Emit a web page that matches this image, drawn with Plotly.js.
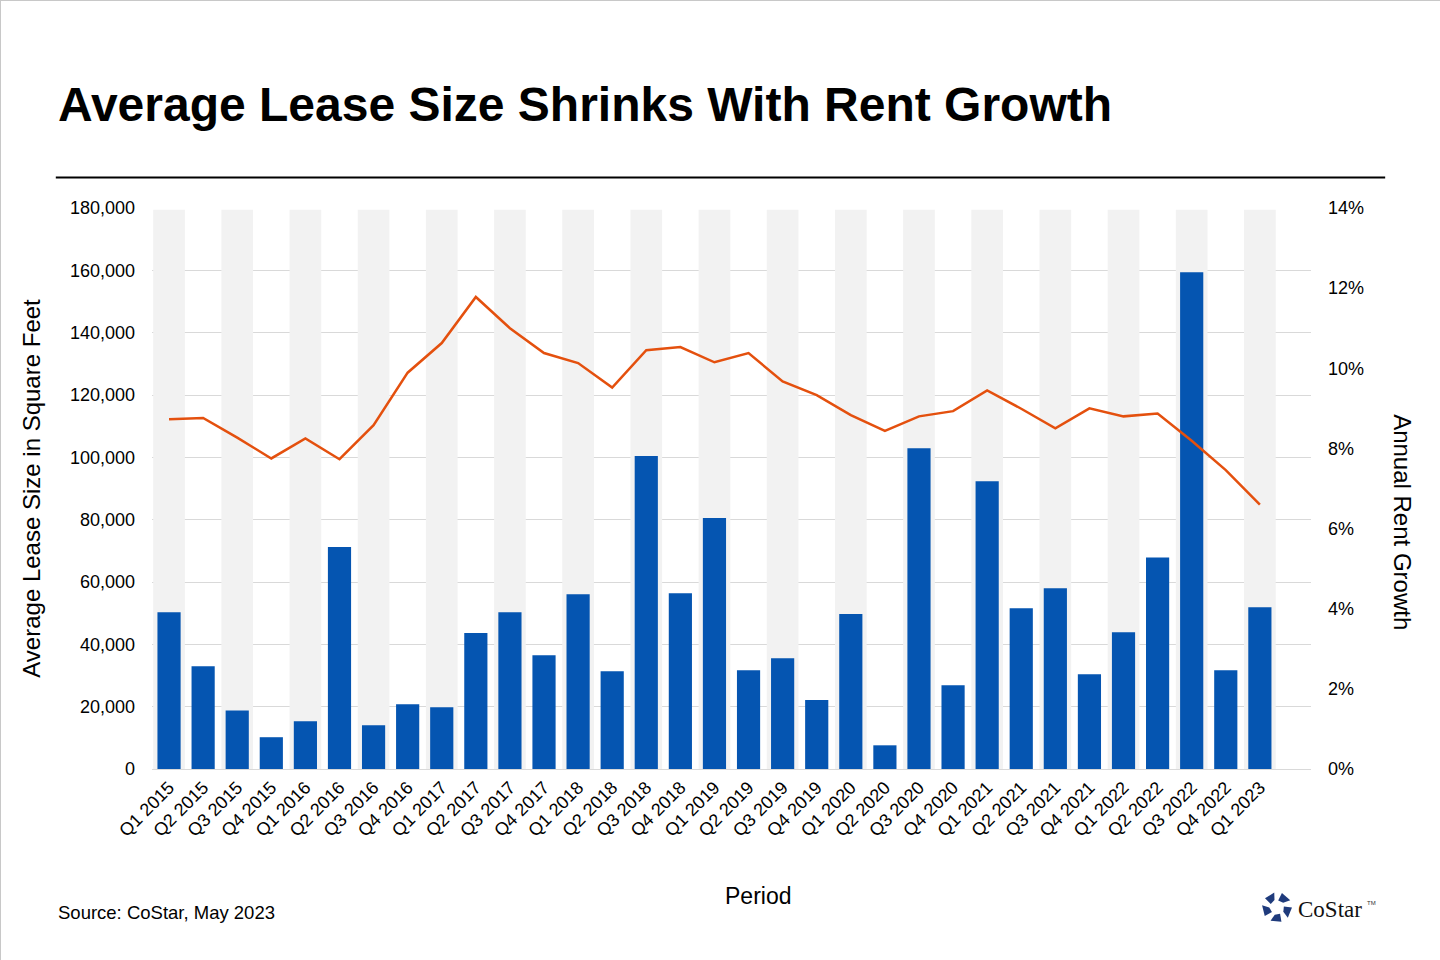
<!DOCTYPE html>
<html>
<head>
<meta charset="utf-8">
<script src="https://cdn.plot.ly/plotly-3.0.1.min.js"></script>
<style>
  html, body { margin: 0; padding: 0; background: #fff; }
  #chart { width: 1440px; height: 960px; box-sizing: border-box; border: 1px solid #c8c8c8; }
</style>
</head>
<body>
<div id="chart"></div>
<script>
const quarters = [
  'Q1 2015', 'Q2 2015', 'Q3 2015', 'Q4 2015',
  'Q1 2016', 'Q2 2016', 'Q3 2016', 'Q4 2016',
  'Q1 2017', 'Q2 2017', 'Q3 2017', 'Q4 2017',
  'Q1 2018', 'Q2 2018', 'Q3 2018', 'Q4 2018',
  'Q1 2019', 'Q2 2019', 'Q3 2019', 'Q4 2019',
  'Q1 2020', 'Q2 2020', 'Q3 2020', 'Q4 2020',
  'Q1 2021', 'Q2 2021', 'Q3 2021', 'Q4 2021',
  'Q1 2022', 'Q2 2022', 'Q3 2022', 'Q4 2022',
  'Q1 2023'
];

// average lease size, square feet
const leaseSize = [
  50300, 33000, 18800, 10200,
  15300, 71200, 14000, 20800,
  19800, 43600, 50300, 36500,
  56100, 31400, 100400, 56400,
  80500, 31700, 35500, 22100,
  49700, 7600, 102900, 26900,
  92300, 51600, 58000, 30400,
  43900, 67900, 159400, 31700,
  51900
];

// annual rent growth
const rentGrowth = [
  0.0873, 0.0876, 0.0827, 0.0775,
  0.0825, 0.0773, 0.0858, 0.0989,
  0.1063, 0.1178, 0.1100, 0.1038,
  0.1013, 0.0952, 0.1045, 0.1053,
  0.1015, 0.1038, 0.0967, 0.0933,
  0.0883, 0.0844, 0.0880, 0.0893,
  0.0945, 0.0899, 0.0850, 0.0900,
  0.0880, 0.0887, 0.0819, 0.0746,
  0.0660
];

const leftMax = 180000;

// light grey bands behind every other quarter
const bandY = quarters.map((q, i) => (i % 2 === 0 ? leftMax - 600 : null));

const fontFamily = '"Liberation Sans", Arial, sans-serif';

const bands = {
  type: 'bar',
  x: quarters,
  y: bandY,
  width: 0.93,
  marker: { color: '#f2f2f2' },
  hoverinfo: 'skip',
  showlegend: false,
};

const bars = {
  type: 'bar',
  name: 'Average Lease Size',
  x: quarters,
  y: leaseSize,
  width: 0.68,
  marker: { color: '#0555b1' },
  showlegend: false,
};

const line = {
  type: 'scatter',
  mode: 'lines',
  name: 'Annual Rent Growth',
  x: quarters,
  y: rentGrowth,
  yaxis: 'y2',
  line: { color: '#e4500e', width: 2.5 },
  showlegend: false,
};

const layout = {
  width: 1440,
  height: 960,
  paper_bgcolor: '#ffffff',
  plot_bgcolor: '#ffffff',
  margin: { l: 151, r: 130, t: 207, b: 192 },
  barmode: 'overlay',
  font: { family: fontFamily, color: '#000' },
  xaxis: {
    type: 'category',
    range: [-0.5, 33.5],
    tickangle: -45,
    tickfont: { size: 18, family: fontFamily },
    showgrid: false,
    showline: true,
    linecolor: '#d9d9d9',
    ticks: '',
  },
  yaxis: {
    range: [0, leftMax],
    dtick: 20000,
    tickformat: ',d',
    tickfont: { size: 18 },
    ticklabelstandoff: 16,
    gridcolor: '#d9d9d9',
    zeroline: false,
    ticks: '',
    title: { text: 'Average Lease Size in Square Feet', font: { size: 24 }, standoff: 22 },
  },
  yaxis2: {
    overlaying: 'y',
    side: 'right',
    range: [0, 0.14],
    dtick: 0.02,
    tickformat: '.0%',
    tickfont: { size: 18 },
    ticklabelstandoff: 16,
    showgrid: false,
    zeroline: false,
    ticks: '',
  },
  shapes: [
    { type: 'line', xref: 'paper', yref: 'paper',
      x0: -0.083, x1: 1.064, y0: 1.0545, y1: 1.0545,
      line: { color: '#000', width: 2 } },
  ],
  annotations: [
    { text: '<b>Average Lease Size Shrinks With Rent Growth</b>',
      xref: 'paper', yref: 'paper', x: -0.083, y: 1.133, xanchor: 'left', yanchor: 'bottom',
      showarrow: false, font: { size: 48, family: fontFamily } },
    { text: 'Annual Rent Growth', textangle: 90,
      xref: 'paper', yref: 'paper', x: 1.0794, y: 0.44, xanchor: 'center', yanchor: 'middle',
      showarrow: false, font: { size: 24 } },
    { text: 'Period',
      xref: 'paper', yref: 'paper', x: 0.523, y: -0.227, xanchor: 'center', yanchor: 'middle',
      showarrow: false, font: { size: 23 } },
    { text: 'Source: CoStar, May 2023',
      xref: 'paper', yref: 'paper', x: -0.0825, y: -0.255, xanchor: 'left', yanchor: 'middle',
      showarrow: false, font: { size: 18.5 } },
    { text: 'CoStar',
      xref: 'paper', yref: 'paper', x: 0.987, y: -0.250, xanchor: 'left', yanchor: 'middle',
      showarrow: false, font: { size: 23, family: '"Liberation Serif", "DejaVu Serif", serif', color: '#111' } },
    { text: 'TM',
      xref: 'paper', yref: 'paper', x: 1.0465, y: -0.239, xanchor: 'left', yanchor: 'middle',
      showarrow: false, font: { size: 6, color: '#333' } },
  ],
};

// simple five-piece star mark for the logo, in pixels relative to its centre
(function addLogo() {
  const cx = 1276, cy = 906, rOut = 15, rIn = 7;
  const pw = 1440 - 151 - 130, ph = 960 - 207 - 192;
  const toX = px => (px - 151) / pw;
  const toY = py => (767.7 - py) / ph;
  for (let k = 0; k < 5; k++) {
    const a0 = -Math.PI / 2 + k * 2 * Math.PI / 5 + 0.18;
    const a1 = a0 + 2 * Math.PI / 5 - 0.36;
    const am = (a0 + a1) / 2;
    const pts = [
      [cx + rIn * Math.cos(a0), cy + rIn * Math.sin(a0)],
      [cx + rOut * Math.cos(a0 + 0.15), cy + rOut * Math.sin(a0 + 0.15)],
      [cx + rOut * Math.cos(a1), cy + rOut * Math.sin(a1)],
      [cx + rIn * 1.1 * Math.cos(am + 0.3), cy + rIn * 1.1 * Math.sin(am + 0.3)],
    ];
    const path = 'M ' + pts.map(p => toX(p[0]).toFixed(4) + ' ' + toY(p[1]).toFixed(4)).join(' L ') + ' Z';
    layout.shapes.push({ type: 'path', xref: 'paper', yref: 'paper', path,
      fillcolor: '#1f3b7c', line: { width: 0 } });
  }
})();

Plotly.newPlot('chart', [bands, bars, line], layout, { displayModeBar: false, staticPlot: true });
</script>
</body>
</html>
